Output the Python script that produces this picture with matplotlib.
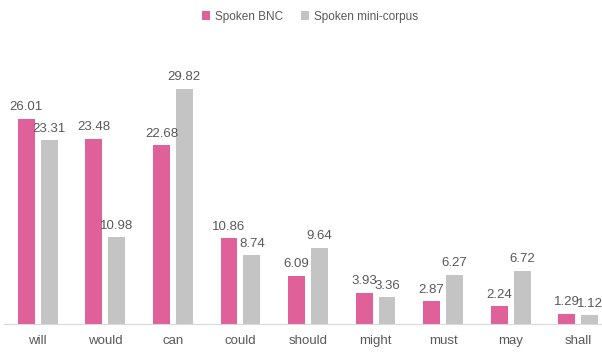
import matplotlib.pyplot as plt
import numpy as np

plt.rcParams['font.family'] = ['Liberation Sans', 'DejaVu Sans']

# modali e frequenze
modals = ['will', 'would', 'can', 'could', 'should', 'might', 'must', 'may', 'shall']
bnc = [26.01, 23.48, 22.68, 10.86, 6.09, 3.93, 2.87, 2.24, 1.29]
mini = [23.31, 10.98, 29.82, 8.74, 9.64, 3.36, 6.27, 6.72, 1.12]

pink = '#E0609A'
grey = '#C4C4C4'
txt = '#595959'

fig = plt.figure(figsize=(6.02, 3.54), dpi=100)
ax = fig.add_axes([4 / 602, 30 / 354, 608 / 602, 284 / 354])

x = np.arange(len(modals))
w = 0.25
off = 0.17
b1 = ax.bar(x - off, bnc, w, color=pink, label='Spoken BNC')
b2 = ax.bar(x + off, mini, w, color=grey, label='Spoken mini-corpus')

for bars, vals in ((b1, bnc), (b2, mini)):
    for b, v in zip(bars, vals):
        ax.text(b.get_x() + b.get_width() / 2, v + 0.7, f'{v:.2f}',
                ha='center', va='bottom', fontsize=9.5, color=txt)

ax.set_xlim(-0.5, len(modals) - 0.5)
ax.set_ylim(0, 36)
ax.set_xticks(x)
ax.set_xticklabels(modals, fontsize=9.5, color=txt)
ax.tick_params(axis='x', length=0, pad=8)
ax.set_yticks([])
for s in ['top', 'right', 'left']:
    ax.spines[s].set_visible(False)
ax.spines['bottom'].set_color('#D9D9D9')

fig.legend(handles=[b1, b2], loc='upper center', bbox_to_anchor=(0.515, 1.0), ncol=2,
           frameon=False, fontsize=8.5, handlelength=0.7, handleheight=0.7,
           columnspacing=1.5, handletextpad=0.4, labelcolor=txt)

fig.savefig('out.png', dpi=100)
